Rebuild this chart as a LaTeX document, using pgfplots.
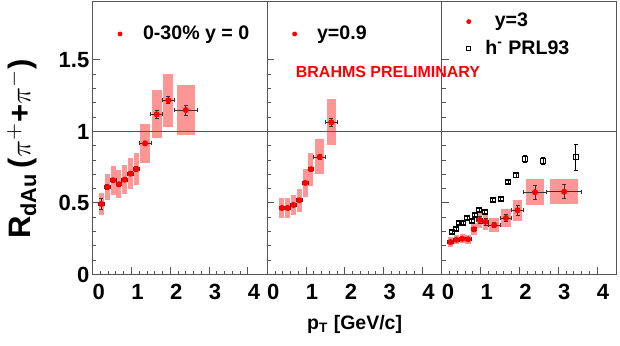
\documentclass[border=0pt]{standalone}
\usepackage{fontspec}
\setmainfont{Liberation Sans}
\usepackage{pgfplots}
\usepackage{pgfplotstable}
\pgfplotsset{compat=1.18}
\definecolor{sysred}{RGB}{255,150,150}
\definecolor{framegray}{RGB}{85,85,85}

% columns: pT, R, stat x, stat y, sys half height
\pgfplotstableread{
x     y      ex     ey     sys
0.225 0.493  0.075  0.040  0.075
0.375 0.612  0.075  0.015  0.092
0.525 0.659  0.075  0.015  0.100
0.675 0.631  0.075  0.015  0.097
0.825 0.663  0.075  0.015  0.100
0.975 0.705  0.075  0.015  0.108
1.125 0.738  0.075  0.015  0.115
1.35  0.917  0.15   0.015  0.137
1.65  1.120  0.15   0.025  0.169
1.95  1.218  0.15   0.025  0.184
2.40  1.150  0.30   0.035  0.173
}\tabA

\pgfplotstableread{
x     y      ex     ey     sys
0.375 0.465  0.075  0.010  0.072
0.525 0.465  0.075  0.010  0.072
0.675 0.486  0.075  0.010  0.073
0.825 0.519  0.075  0.010  0.080
0.975 0.640  0.075  0.012  0.098
1.125 0.736  0.075  0.015  0.114
1.35  0.822  0.15   0.015  0.122
1.65  1.064  0.15   0.028  0.160
}\tabB

\pgfplotstableread{
x     y      ex     ey     sys
0.225 0.227  0.075  0.010  0.033
0.375 0.243  0.075  0.010  0.033
0.525 0.250  0.075  0.010  0.033
0.675 0.246  0.075  0.010  0.033
0.825 0.316  0.075  0.015  0.041
0.975 0.381  0.075  0.025  0.054
1.125 0.369  0.075  0.025  0.056
1.35  0.346  0.15   0.015  0.049
1.65  0.395  0.15   0.025  0.062
1.95  0.449  0.15   0.035  0.072
2.40  0.575  0.30   0.050  0.091
3.15  0.579  0.45   0.050  0.087
}\tabC

\pgfplotstableread{
x     y      ey
0.258 0.295  0.010
0.361 0.316  0.010
0.447 0.362  0.010
0.550 0.362  0.010
0.653 0.395  0.010
0.765 0.372  0.010
0.850 0.418  0.010
0.954 0.453  0.010
1.100 0.437  0.010
1.306 0.519  0.010
1.512 0.530  0.010
1.710 0.647  0.010
1.907 0.694  0.012
2.148 0.806  0.025
2.610 0.796  0.025
3.450 0.820  0.090
}\tabH

\pgfplotsset{
  panel/.style={
    scale only axis, width=87.3pt, height=136.25pt,
    xmin=0, xmax=4.5, ymin=0, ymax=1.9056,
    xtick={0,1,2,3,4}, ytick={0,0.5,1,1.5},
    minor x tick num=4, minor y tick num=4,
    xtick pos=bottom, ytick pos=left,
    tick align=inside,
    major tick length=3.5pt, minor tick length=1.8pt,
    axis line style={framegray, line width=0.5pt},
    tick style={framegray, line width=0.5pt},
    tick label style={font=\fontsize{11}{12}\selectfont\bfseries},
    /pgf/number format/assume math mode=true,
    xticklabel style={xshift=3pt, yshift=-1.5pt},
    yticklabel style={inner sep=0pt, xshift=-1.5pt},
    legend style={draw=none, fill=none, inner sep=0pt,
      font=\fontsize{9.8}{11}\selectfont\bfseries, cells={anchor=west},
      row sep=1pt},
  },
  % systematic boxes: a butt-capped error bar as wide as the box (1 x unit = 19.4pt)
  sysbar/.style={
    forget plot, only marks, mark=*, mark size=0.1pt, sysred,
    error bars/y dir=both, error bars/y explicit,
    error bars/error mark=none,
    error bars/error bar style={sysred, line width=#1},
  },
  pts/.style={
    forget plot, only marks, mark=*, mark size=1.3pt, color=red,
    error bars/x dir=both, error bars/x explicit,
    error bars/y dir=both, error bars/y explicit,
    error bars/error bar style={black!80, line width=0.4pt},
    error bars/error mark=|,
    error bars/error mark options={black!80, line width=0.4pt, mark size=1pt},
  },
  unity/.style={forget plot, no marks, framegray, line width=0.5pt},
}

\begin{document}
\begin{tikzpicture}
\useasboundingbox (-46.35pt,-35.75pt) rectangle (263.65pt,137.25pt);

\begin{axis}[panel, at={(0pt,0pt)}, anchor=south west,
    ylabel={R\textsubscript{dAu}\,($\pi^{+}$+$\pi^{-}$)},
    ylabel style={at={(axis description cs:-0.405,0.46)}, anchor=center,
      font=\fontsize{15.5}{17}\selectfont\bfseries},
    legend style={at={(axis description cs:0.143,0.8826)}, anchor=west}]
  \addplot[sysbar=2.5pt, restrict x to domain=0:1.2] table[x=x, y=y, y error=sys] {\tabA};
  \addplot[sysbar=4.9pt, restrict x to domain=1.2:2.1] table[x=x, y=y, y error=sys] {\tabA};
  \addplot[sysbar=9.3pt, restrict x to domain=2.1:2.7] table[x=x, y=y, y error=sys] {\tabA};
  \addplot[unity] coordinates {(0,1) (4.5,1)};
  \addplot[pts] table[x=x, y=y, x error=ex, y error=ey] {\tabA};
  \addlegendimage{only marks, mark=*, mark size=1pt, red}
  \addlegendentry{\hspace{8.5pt}0-30\% y = 0}
\end{axis}

\begin{axis}[panel, at={(87.3pt,0pt)}, anchor=south west, yticklabels={},
    xlabel={p\textsubscript{T} [GeV/c]},
    xlabel style={at={(axis description cs:0.5,-0.185)}, anchor=center,
      font=\fontsize{9.75}{11}\selectfont\bfseries},
    legend style={at={(axis description cs:0.143,0.8826)}, anchor=west}]
  \addplot[sysbar=2.5pt, restrict x to domain=0:1.2] table[x=x, y=y, y error=sys] {\tabB};
  \addplot[sysbar=4.7pt, restrict x to domain=1.2:2.1] table[x=x, y=y, y error=sys] {\tabB};
  \addplot[unity] coordinates {(0,1) (4.5,1)};
  \addplot[pts] table[x=x, y=y, x error=ex, y error=ey] {\tabB};
  \addlegendimage{only marks, mark=*, mark size=1pt, red}
  \addlegendentry{\hspace{8.2pt}y=0.9}
\end{axis}

\begin{axis}[panel, at={(174.6pt,0pt)}, anchor=south west, yticklabels={},
    legend style={at={(axis description cs:0.14,0.878)}, anchor=west}]
  \addplot[sysbar=2.7pt, restrict x to domain=0:1.2] table[x=x, y=y, y error=sys] {\tabC};
  \addplot[sysbar=4.9pt, restrict x to domain=1.2:2.1] table[x=x, y=y, y error=sys] {\tabC};
  \addplot[sysbar=9.3pt, restrict x to domain=2.1:2.7] table[x=x, y=y, y error=sys] {\tabC};
  \addplot[sysbar=14pt, restrict x to domain=2.7:3.6] table[x=x, y=y, y error=sys] {\tabC};
  \addplot[unity] coordinates {(0,1) (4.5,1)};
  \addplot[forget plot, only marks, mark=square, mark size=1.3pt, black, mark options={line width=0.45pt},
    error bars/y dir=both, error bars/y explicit,
    error bars/error bar style={black, line width=0.4pt},
    error bars/error mark=|,
    error bars/error mark options={black, line width=0.4pt, mark size=1pt}]
    table[x=x, y=y, y error=ey] {\tabH};
  \addplot[pts] table[x=x, y=y, x error=ex, y error=ey] {\tabC};
  \addlegendimage{only marks, mark=*, mark size=1pt, red}
  \addlegendentry{\hspace{10pt}y=3}
  \addlegendimage{only marks, mark=square, mark size=1pt, black}
  \addlegendentry{\hspace{5.3pt}h\textsuperscript{-} PRL93}
\end{axis}

\node[red, font=\fontsize{8}{9}\selectfont\bfseries] at (147.65pt,101.25pt) {BRAHMS PRELIMINARY};
\end{tikzpicture}
\end{document}
